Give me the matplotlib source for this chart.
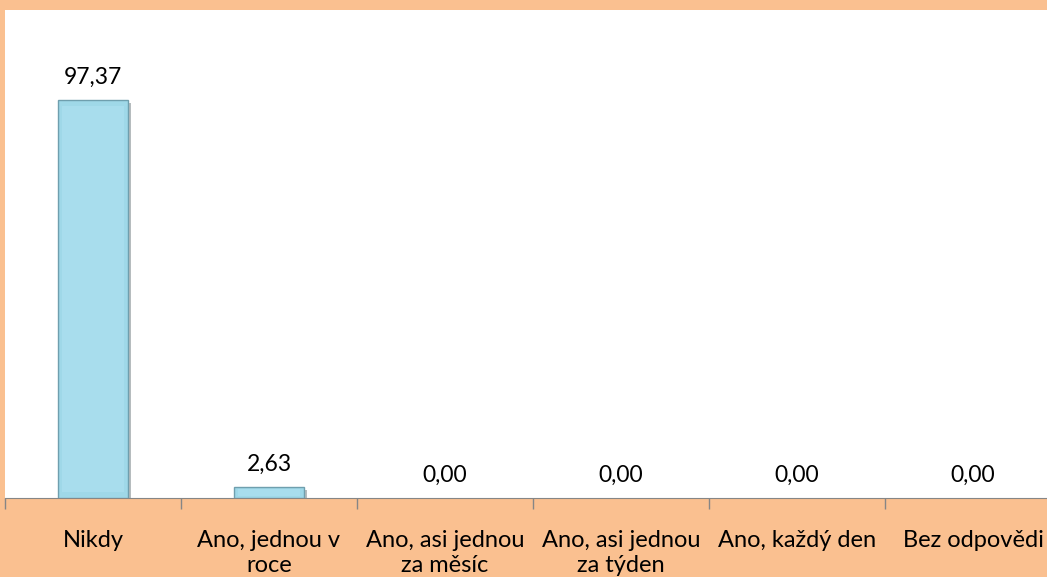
import matplotlib.pyplot as plt
import matplotlib.patheffects as pe

categories = ['Nikdy', 'Ano, jednou v\nroce', 'Ano, asi jednou\nza měsíc',
              'Ano, asi jednou\nza týden', 'Ano, každý den', 'Bez odpovědi']
values = [97.37, 2.63, 0.00, 0.00, 0.00, 0.00]

plt.rcParams['font.family'] = ['Lato', 'DejaVu Sans']

fig = plt.figure(figsize=(10.47, 5.77), dpi=100, facecolor='#fac090')
ax = fig.add_axes([5 / 1047, 79 / 577, 1056 / 1047, 488 / 577])
ax.set_facecolor('white')

x = list(range(len(categories)))
bars = ax.bar(x, values, width=0.40, color='#9fd8e8', edgecolor='#6f9fae',
              linewidth=1.0, zorder=3)
for b in bars:
    if b.get_height() <= 0:
        b.set_visible(False)
        continue
    b.set_path_effects([pe.SimplePatchShadow(offset=(2, -2), alpha=0.35),
                        pe.Normal()])
    # inner highlight to mimic bevel
    inset = min(1.5, b.get_height() * 0.2)
    ax.add_patch(plt.Rectangle((b.get_x() + 0.025, b.get_y() + inset),
                               b.get_width() - 0.05,
                               b.get_height() - 2 * inset,
                               facecolor='#a8dded', edgecolor='none',
                               zorder=4))

for xi, v in zip(x, values):
    ax.text(xi, v + 3.0, f'{v:.2f}'.replace('.', ','), ha='center',
            va='bottom', fontsize=16.5, color='black')

ax.set_xlim(-0.5, 5.5)
ax.set_ylim(0, 119.5)
ax.set_yticks([])
ax.set_xticks(x)
ax.set_xticklabels(categories, fontsize=17, linespacing=1.25)
ax.set_xticks([i - 0.5 for i in range(len(categories) + 1)], minor=True)
ax.tick_params(axis='x', which='major', length=0, pad=23)
ax.tick_params(axis='x', which='minor', length=8, color='#868686', width=1)
for s in ['top', 'left', 'right']:
    ax.spines[s].set_visible(False)
ax.spines['bottom'].set_color('#868686')

fig.savefig('out.png', dpi=100, facecolor=fig.get_facecolor())
